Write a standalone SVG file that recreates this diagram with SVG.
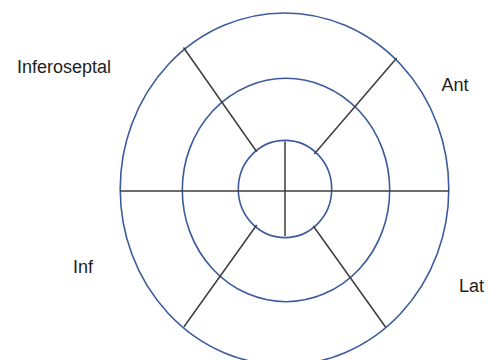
<svg xmlns="http://www.w3.org/2000/svg" width="490" height="360" viewBox="0 0 490 360">
<style>
.ring{fill:none;stroke:#3b5b9d;stroke-width:1.6}
.div{stroke:#3c3c3c;stroke-width:1.5;fill:none}
.lbl{font-family:"Liberation Sans",Arial,sans-serif;font-size:18px;fill:#1e1e1e}
</style>
<rect width="490" height="360" fill="#ffffff"/>
<g id="outer-ring"><ellipse class="ring" cx="284.5" cy="189" rx="164.3" ry="176"/></g>
<g id="middle-ring"><ellipse class="ring" cx="286" cy="190" rx="103.7" ry="111.7"/></g>
<g id="inner-ring"><ellipse class="ring" cx="285" cy="189" rx="46.7" ry="48.6"/></g>
<g id="connectors">
<line class="div" x1="120" y1="191" x2="449" y2="191"/>
<line class="div" x1="285" y1="141.5" x2="285" y2="236"/>
<line class="div" x1="183.5" y1="47.5" x2="256.7" y2="151.7"/>
<line class="div" x1="396.7" y1="58" x2="314.3" y2="154"/>
<line class="div" x1="256.7" y1="225" x2="184" y2="326.7"/>
<line class="div" x1="313.3" y1="226" x2="385.7" y2="327.3"/>
</g>
<g id="label-inferoseptal"><text class="lbl" x="17" y="73">Inferoseptal</text></g>
<g id="label-ant"><text class="lbl" x="441.5" y="91">Ant</text></g>
<g id="label-inf"><text class="lbl" x="73" y="273">Inf</text></g>
<g id="label-lat"><text class="lbl" x="459" y="291.5">Lat</text></g>
</svg>
